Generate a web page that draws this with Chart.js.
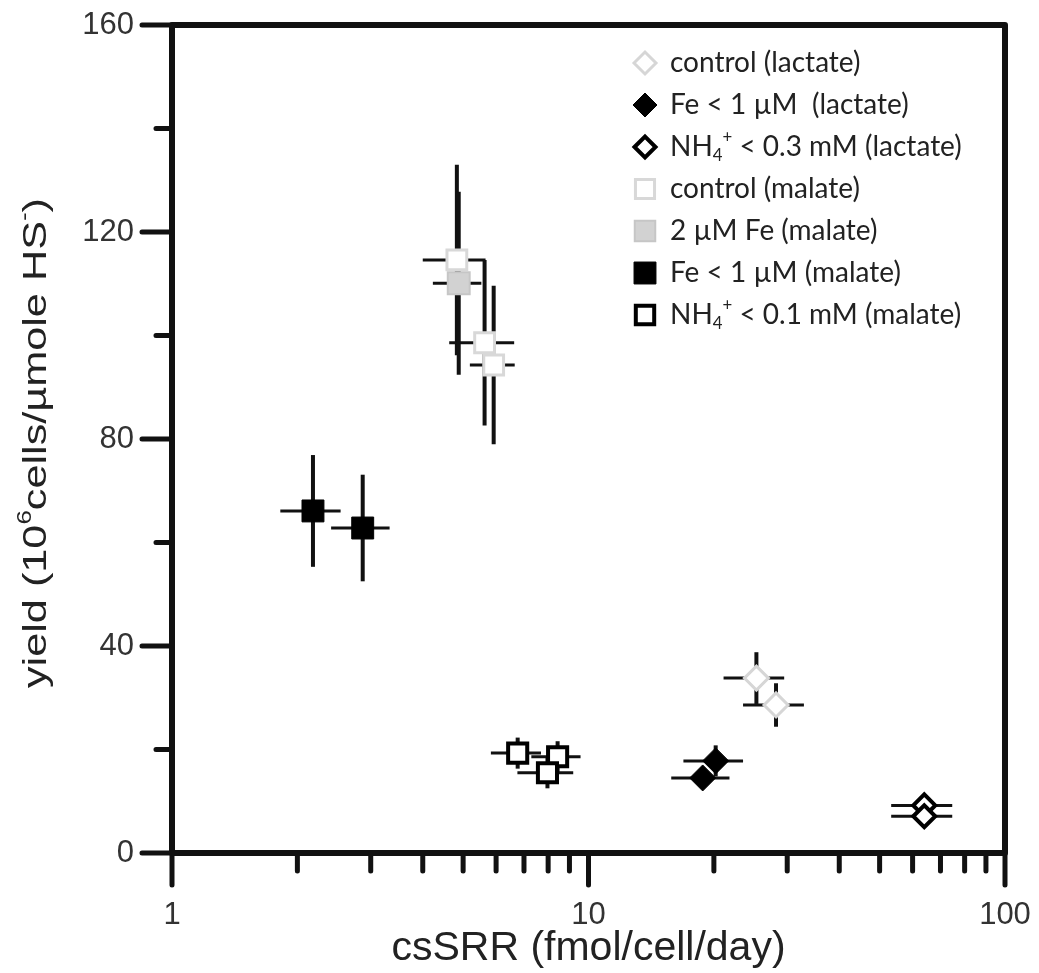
<!DOCTYPE html>
<html>
<head>
<meta charset="utf-8">
<script src="https://cdn.jsdelivr.net/npm/chart.js@4.4.1/dist/chart.umd.min.js"></script>
<style>
  html, body { margin: 0; background: #fff; }
  #wrap { width: 1039px; height: 973px; }
</style>
</head>
<body>
<div id="wrap"><canvas id="yieldchart"></canvas></div>
<script>
var xTicks = [1, 10, 100];
var yTicks = [0, 40, 80, 120, 160];

// each row: [csSRR, yield, ± csSRR, ± yield]
var controlLactate = [[25.3, 33.8, 4.2, 5.0], [28.2, 28.6, 4.7, 4.2]];
var feLactate = [[20.2, 17.8, 3.3, 3.0], [18.8, 14.5, 3.0, 2.0]];
var nh4Lactate = [[64, 9.2, 10.7, 2.0], [64, 7.1, 10.7, 2.0]];
var controlMalate = [[4.83, 114.6, 0.83, 18.4], [5.63, 98.6, 1.0, 16.0], [5.92, 94.3, 0.73, 15.3]];
var fe2Malate = [[4.88, 110.1, 0.65, 17.7]];
var feMalate = [[2.18, 66.1, 0.36, 10.8], [2.87, 62.8, 0.46, 10.3]];
var nh4Malate = [[6.76, 19.3, 0.93, 3.0], [8.43, 18.6, 1.14, 3.0], [7.97, 15.5, 1.22, 3.0]];

// _x = subscript, ^x = superscript
var seriesNames = [
  'control (lactate)',
  'Fe < 1 µM  (lactate)',
  'NH_4^+ < 0.3 mM (lactate)',
  'control (malate)',
  '2 µM Fe (malate)',
  'Fe < 1 µM (malate)',
  'NH_4^+ < 0.1 mM (malate)'
];

function rows(list) {
  return list.map(function (r) { return { x: r[0], y: r[1], xErr: r[2], yErr: r[3] }; });
}

function series(i, list, style, fill, border, bw, r, lr) {
  return {
    label: seriesNames[i],
    data: rows(list),
    pointStyle: style,
    pointBackgroundColor: fill,
    pointBorderColor: border,
    pointBorderWidth: bw,
    pointRadius: r,
    legendRadius: lr
  };
}

function parts(text) {
  return text.split(/(_\S|\^\S)/).filter(Boolean).map(function (t) {
    if (t[0] === '_') return { t: t.slice(1), dy: 0.3 };
    if (t[0] === '^') return { t: t.slice(1), dy: -0.35 };
    return { t: t, dy: 0 };
  });
}

function richWidth(ctx, list, size, family) {
  var w = 0;
  list.forEach(function (p) {
    ctx.font = (p.dy ? size * 0.6 : size) + 'px ' + family;
    w += ctx.measureText(p.t).width;
  });
  return w;
}

function drawRich(ctx, list, x, y, size, family) {
  ctx.textBaseline = 'middle';
  ctx.textAlign = 'left';
  list.forEach(function (p) {
    ctx.font = (p.dy ? size * 0.6 : size) + 'px ' + family;
    ctx.fillText(p.t, x, y + p.dy * size);
    x += ctx.measureText(p.t).width;
  });
}

var frameTicks = {
  id: 'frameTicks',
  beforeDatasetsDraw: function (chart) {
    var ctx = chart.ctx, a = chart.chartArea, xs = chart.scales.x, ys = chart.scales.y;
    ctx.save();
    ctx.strokeStyle = '#111';
    ctx.lineCap = 'round';
    ctx.lineWidth = 5;
    ctx.beginPath();
    yTicks.forEach(function (v, i) {
      var py = ys.getPixelForValue(v);
      ctx.moveTo(a.left - 30, py);
      ctx.lineTo(a.left, py);
      if (i > 0) {
        var pm = ys.getPixelForValue((v + yTicks[i - 1]) / 2);
        ctx.moveTo(a.left - 16, pm);
        ctx.lineTo(a.left, pm);
      }
    });
    xTicks.forEach(function (v, i) {
      var px = xs.getPixelForValue(v);
      ctx.moveTo(px, a.bottom);
      ctx.lineTo(px, a.bottom + 32);
      if (i < xTicks.length - 1) {
        for (var m = 2; m < 10; m++) {
          var pm = xs.getPixelForValue(v * m);
          ctx.moveTo(pm, a.bottom);
          ctx.lineTo(pm, a.bottom + 18);
        }
      }
    });
    ctx.stroke();
    ctx.lineWidth = 6;
    ctx.lineJoin = 'round';
    ctx.strokeRect(a.left, a.top, a.right - a.left, a.bottom - a.top);
    ctx.restore();
  }
};

var errorBars = {
  id: 'errorBars',
  beforeDatasetsDraw: function (chart) {
    var ctx = chart.ctx, xs = chart.scales.x, ys = chart.scales.y;
    ctx.save();
    ctx.strokeStyle = '#111';
    chart.data.datasets.forEach(function (ds) {
      ds.data.forEach(function (p) {
        var px = xs.getPixelForValue(p.x), py = ys.getPixelForValue(p.y);
        ctx.lineWidth = 3;
        ctx.beginPath();
        ctx.moveTo(xs.getPixelForValue(p.x - p.xErr), py);
        ctx.lineTo(xs.getPixelForValue(p.x + p.xErr), py);
        ctx.stroke();
        ctx.lineWidth = 4;
        ctx.beginPath();
        ctx.moveTo(px, ys.getPixelForValue(p.y - p.yErr));
        ctx.lineTo(px, ys.getPixelForValue(p.y + p.yErr));
        ctx.stroke();
      });
    });
    ctx.restore();
  }
};

var boxLegend = {
  id: 'boxLegend',
  afterDatasetsDraw: function (chart) {
    var ctx = chart.ctx;
    chart.data.datasets.forEach(function (ds, i) {
      var y = 63 + i * 42;
      ctx.save();
      ctx.fillStyle = ds.pointBackgroundColor;
      ctx.strokeStyle = ds.pointBorderColor;
      ctx.lineWidth = ds.pointBorderWidth;
      Chart.helpers.drawPoint(ctx, { pointStyle: ds.pointStyle, rotation: 0, radius: ds.legendRadius, borderWidth: ds.pointBorderWidth }, 645, y);
      ctx.fillStyle = '#222';
      drawRich(ctx, parts(ds.label), 670, y, 28, 'Lato, sans-serif');
      ctx.restore();
    });
  }
};

var yTitle = {
  id: 'yTitle',
  afterDraw: function (chart) {
    var ctx = chart.ctx;
    var title = parts('yield (10^6cells/µmole HS^-)');
    var family = '"Liberation Sans", Arial, sans-serif';
    ctx.save();
    ctx.fillStyle = '#222';
    var w = richWidth(ctx, title, 34, family);
    ctx.translate(37, 443);
    ctx.rotate(-Math.PI / 2);
    ctx.scale(490 / w, 1);
    drawRich(ctx, title, -w / 2, 0, 34, family);
    ctx.restore();
  }
};

var tickFont = { family: '"Liberation Sans", Arial, sans-serif', size: 31 };

new Chart(document.getElementById('yieldchart').getContext('2d'), {
  type: 'scatter',
  data: {
    datasets: [
      series(0, controlLactate, 'rectRot', '#fff', '#d6d6d6', 3, 12, 11),
      series(1, feLactate, 'rectRot', '#000', '#000', 1, 13, 12),
      series(2, nh4Lactate, 'rectRot', '#fff', '#000', 4, 11, 10.5),
      series(3, controlMalate, 'rect', '#fff', '#d8d8d8', 3, 14, 13.5),
      series(4, fe2Malate, 'rect', '#d2d2d2', '#c6c6c6', 2, 15.5, 14.5),
      series(5, feMalate, 'rect', '#000', '#000', 1, 15.5, 15.5),
      series(6, nh4Malate, 'rect', '#fff', '#000', 4, 13.5, 13)
    ]
  },
  options: {
    responsive: true,
    maintainAspectRatio: false,
    animation: false,
    layout: { autoPadding: false, padding: { left: 0, top: 25, right: 34, bottom: 0 } },
    plugins: {
      legend: { display: false },
      tooltip: { enabled: false }
    },
    scales: {
      x: {
        type: 'logarithmic',
        min: 1,
        max: 100,
        afterBuildTicks: function (s) { s.ticks = xTicks.map(function (v) { return { value: v }; }); },
        afterFit: function (s) { s.height = 120; },
        // tick marks are drawn by frameTicks; tickLength only offsets the labels
        grid: { display: false, drawTicks: true, tickLength: 44 },
        border: { display: false },
        ticks: {
          font: tickFont, color: '#333', padding: 0, maxRotation: 0, autoSkip: false,
          callback: function (v) { return String(v); }
        },
        title: {
          display: true, text: 'csSRR (fmol/cell/day)', color: '#222',
          font: { family: '"Liberation Sans", Arial, sans-serif', size: 41 },
          padding: { top: 0, bottom: 0 }
        }
      },
      y: {
        min: 0,
        max: 160,
        afterBuildTicks: function (s) { s.ticks = yTicks.map(function (v) { return { value: v }; }); },
        afterFit: function (s) { s.width = 172; },
        grid: { display: false, drawTicks: true, tickLength: 38 },
        border: { display: false },
        ticks: { font: tickFont, color: '#333', padding: 0 }
      }
    }
  },
  plugins: [frameTicks, errorBars, boxLegend, yTitle]
});
</script>
</body>
</html>
